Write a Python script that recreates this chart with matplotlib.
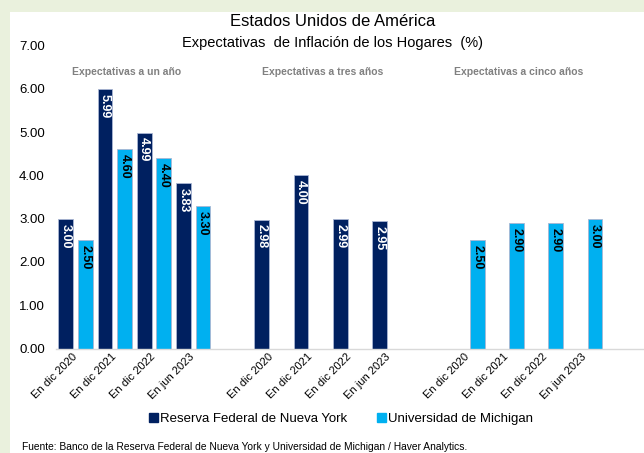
import matplotlib
matplotlib.use("Agg")
import matplotlib.pyplot as plt
from matplotlib.patches import Rectangle
import numpy as np

plt.rcParams["font.family"] = ["Liberation Sans", "DejaVu Sans"]

periods = ["En dic 2020", "En dic 2021", "En dic 2022", "En jun 2023"]
horizons = ["Expectativas a un año", "Expectativas a tres años", "Expectativas a cinco años"]
ny_fed = [[3.00, 5.99, 4.99, 3.83], [2.98, 4.00, 2.99, 2.95], [None, None, None, None]]
michigan = [[2.50, 4.60, 4.40, 3.30], [None, None, None, None], [2.50, 2.90, 2.90, 3.00]]

series_names = ["Reserva Federal de Nueva York", "Universidad de Michigan"]
colors = ["#002060", "#00b0f0"]
label_colors = ["white", "black"]

fig = plt.figure(figsize=(6.44, 4.53), dpi=100)
fig.patch.set_facecolor("#eaf1dd")
# white panel inside the green frame
fig.add_artist(Rectangle((10 / 644, 0), 1, 441 / 453, transform=fig.transFigure,
                         facecolor="white", edgecolor="none", zorder=0))

ax = fig.add_axes([56 / 644, 104.5 / 453, 588 / 644, 303 / 453])
ax.set_facecolor("none")

width = 0.38
offsets = [-0.25, 0.25]
tick_pos, tick_lab = [], []
for g in range(len(horizons)):
    for i, period in enumerate(periods):
        x = g * 5 + i
        tick_pos.append(x)
        tick_lab.append(period)
        for s, data in enumerate([ny_fed, michigan]):
            v = data[g][i]
            if v is None:
                continue
            ax.bar(x + offsets[s], v, width, color=colors[s], edgecolor="#a9b6d3",
                   linewidth=0.6, zorder=2)
            ax.annotate(f"{v:.2f}", xy=(x + offsets[s], v), xytext=(0, -3.5),
                        textcoords="offset points", rotation=270, ha="center", va="top",
                        fontsize=9, fontweight="bold", color=label_colors[s], zorder=3)
    ax.text(g * 5 + 1.5 - 0.2, 6.39, horizons[g], ha="center", va="center",
            fontsize=7.5, fontweight="bold", color="#808080")

ax.set_xlim(-0.5, 14.5)
ax.set_ylim(0, 7)
ax.set_yticks(np.arange(0, 8))
ax.set_yticklabels([f"{v:.2f}" for v in range(8)], fontsize=9.5)
ax.set_xticks(tick_pos)
ax.set_xticklabels(tick_lab, rotation=45, ha="right", va="center",
                   rotation_mode="anchor", fontsize=8)
ax.tick_params(axis="both", length=0)
ax.tick_params(axis="y", pad=8)
ax.tick_params(axis="x", pad=5)
for side in ["top", "right", "left"]:
    ax.spines[side].set_visible(False)
ax.spines["bottom"].set_color("#d9d9d9")
ax.spines["bottom"].set_linewidth(1)

fig.text(333 / 644, 431 / 453, "Estados Unidos de América", ha="center", va="center",
         fontsize=12)
fig.text(333 / 644, 410 / 453, "Expectativas  de Inflación de los Hogares  (%)",
         ha="center", va="center", fontsize=10.5)

handles = [Rectangle((0, 0), 1, 1, color=c) for c in colors]
fig.legend(handles, series_names, loc="center", bbox_to_anchor=(341 / 644, 34 / 453),
           ncol=2, frameon=False, fontsize=9.5, handlelength=0.7, handleheight=0.7,
           handletextpad=0.2, columnspacing=2.2)

fig.text(22 / 644, 6 / 453,
         "Fuente: Banco de la Reserva Federal de Nueva York y Universidad de Michigan / Haver Analytics.",
         ha="left", va="center", fontsize=7.4)

fig.savefig("out.png", dpi=100)
